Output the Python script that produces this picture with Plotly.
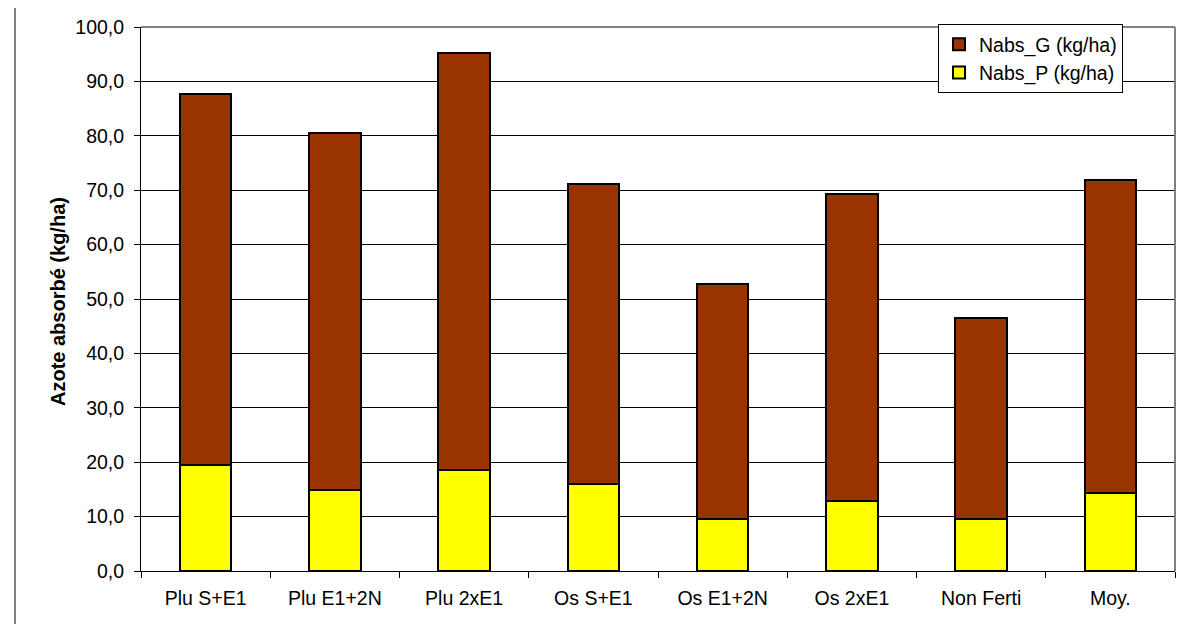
import plotly.graph_objects as go

categories = ["Plu S+E1", "Plu E1+2N", "Plu 2xE1", "Os S+E1", "Os E1+2N", "Os 2xE1", "Non Ferti", "Moy."]
nabs_p = [19.5, 14.9, 18.6, 16.0, 9.6, 12.9, 9.6, 14.4]
nabs_g = [68.2, 65.7, 76.6, 55.1, 43.1, 56.4, 37.0, 57.5]
y_ticks = [0, 10, 20, 30, 40, 50, 60, 70, 80, 90, 100]

W, H = 1192, 624
L, R, T, B = 133, 25, 19, 61
pw, ph = W - L - R, H - T - B

FONT = "Arial, Liberation Sans, sans-serif"

fig = go.Figure()
fig.add_trace(go.Bar(
    x=categories, y=nabs_p, name="Nabs_P (kg/ha)",
    marker=dict(color="#FFFF00", line=dict(color="black", width=2)),
))
fig.add_trace(go.Bar(
    x=categories, y=nabs_g, name="Nabs_G (kg/ha)",
    marker=dict(color="#993300", line=dict(color="black", width=2)),
))

fig.update_layout(
    width=W, height=H,
    barmode="stack", bargap=0.6,
    separators=", ",
    plot_bgcolor="white", paper_bgcolor="white",
    margin=dict(l=L, r=R, t=T, b=B, autoexpand=False),
    font=dict(family=FONT, size=19.5, color="black"),
    showlegend=True,
    legend=dict(
        x=(930 - L) / pw, y=(H - B - 16) / ph, xanchor="left", yanchor="top",
        bgcolor="white", bordercolor="black", borderwidth=1,
        font=dict(family=FONT, size=19.5, color="black"),
        traceorder="reversed", itemwidth=30, tracegroupgap=0,
    ),
    xaxis=dict(
        showline=True, linecolor="black", linewidth=1,
        ticks="outside", ticklen=6, tickcolor="black", tickson="boundaries",
        showgrid=False, ticklabelstandoff=10,
    ),
    yaxis=dict(
        range=[0, 100], tickvals=y_ticks, tickformat=".1f",
        showline=True, linecolor="black", linewidth=1,
        ticks="outside", ticklen=6, tickcolor="black",
        showgrid=True, gridcolor="black", gridwidth=1,
        zeroline=False, ticklabelstandoff=6,
    ),
    hovermode=False,
    annotations=[dict(
        text="<b>Azote absorbé (kg/ha)</b>", textangle=-90,
        xref="paper", yref="paper", x=(50 - L) / pw, y=(H - B - 294) / ph,
        xanchor="center", yanchor="middle", showarrow=False,
        font=dict(family=FONT, size=20, color="black"),
    )],
    shapes=[
        dict(type="line", xref="paper", yref="paper", x0=0, x1=1, y0=1, y1=1,
             line=dict(color="#808080", width=2), layer="above"),
        dict(type="line", xref="paper", yref="paper", x0=1, x1=1, y0=0, y1=1,
             line=dict(color="#808080", width=2), layer="above"),
        dict(type="line", xref="paper", yref="paper",
             x0=(7 - L) / pw, x1=(7 - L) / pw, y0=-B / ph, y1=(H - B) / ph,
             line=dict(color="black", width=1)),
    ],
)

fig.write_html("out.html", config={"displayModeBar": False})
